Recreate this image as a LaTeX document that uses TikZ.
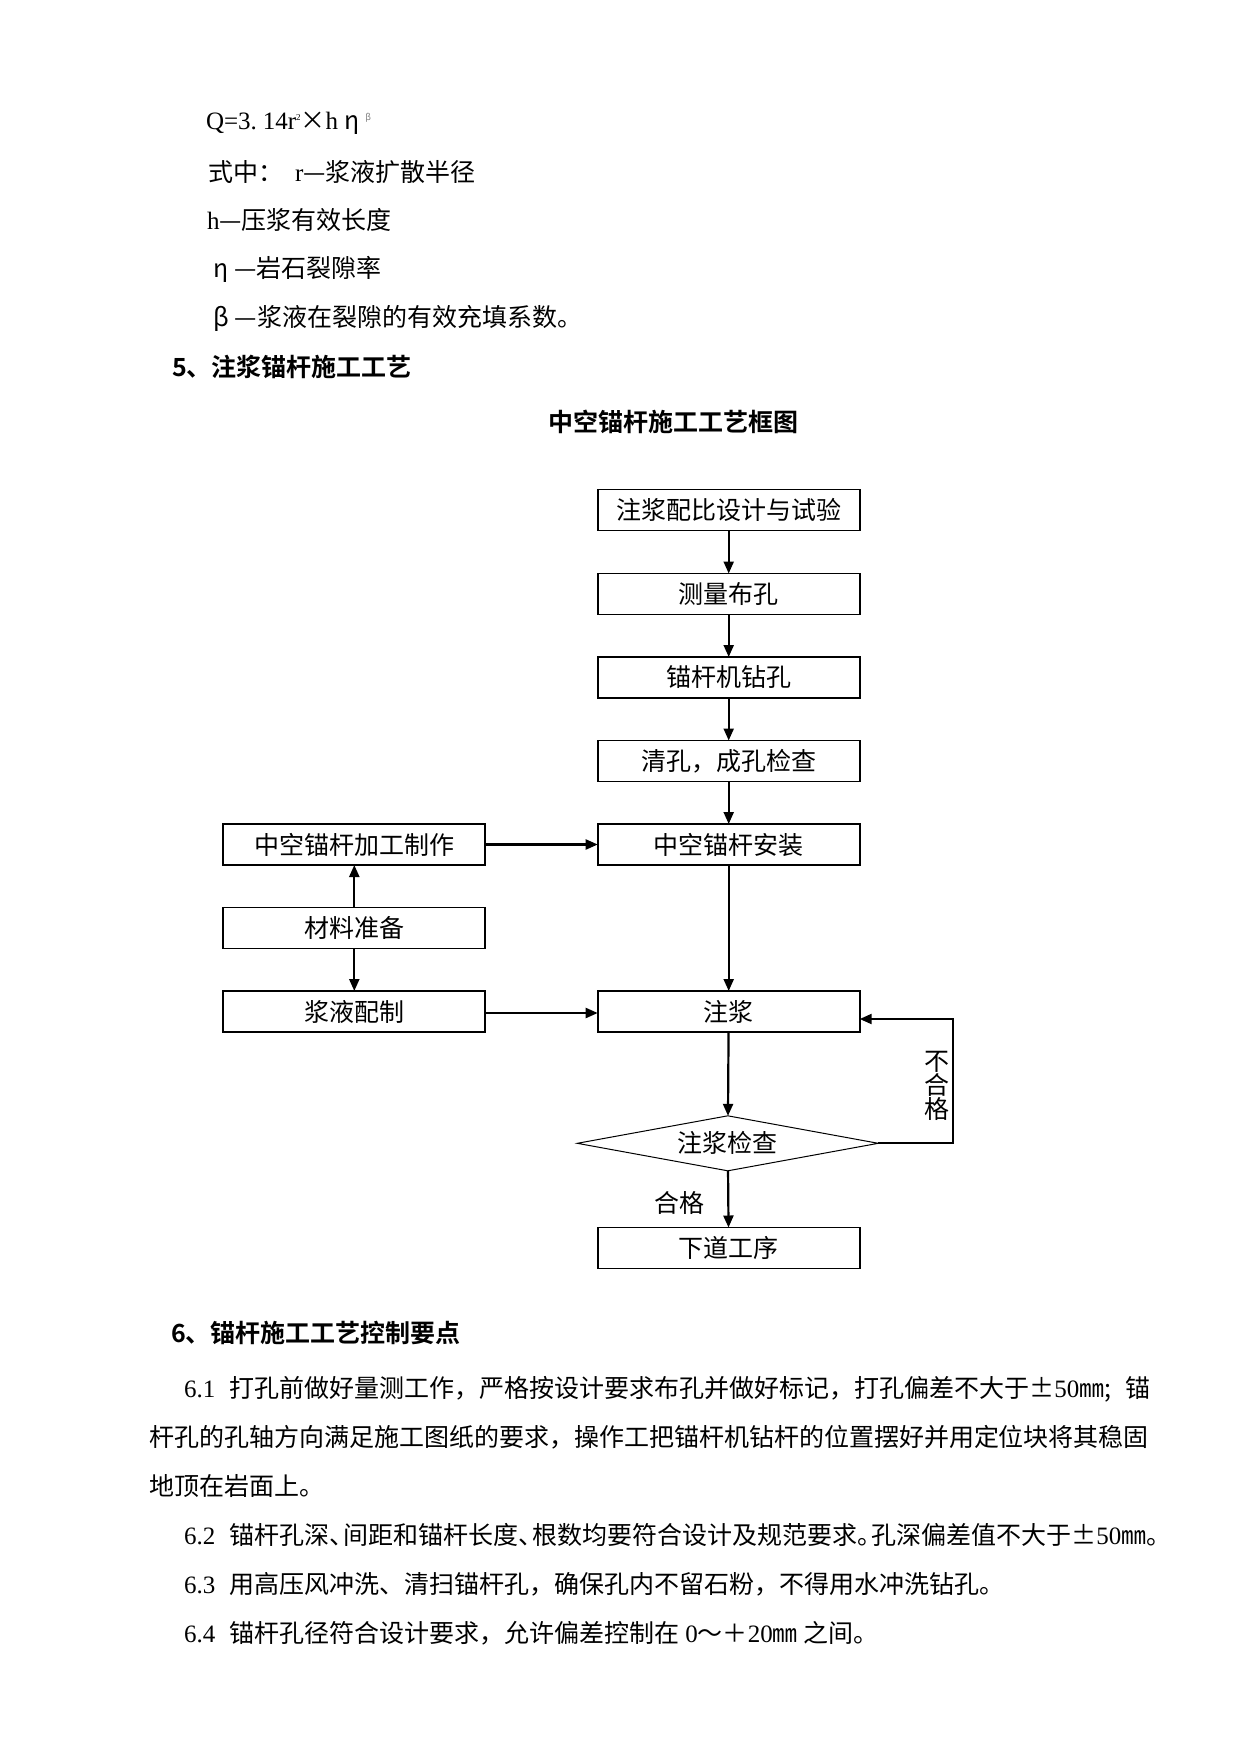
\documentclass[tikz,border=0pt]{standalone}
\usepackage{fontspec}
\setmainfont{Noto Sans CJK SC}[BoldFont={Noto Sans CJK SC Bold}]
\newfontfamily\lat{Liberation Serif}
\usetikzlibrary{arrows.meta,shapes.geometric}
\begin{document}
\begin{tikzpicture}[x=1pt,y=-1pt,
  every node/.style={inner sep=0pt,outer sep=0pt},
  box/.style={draw,line width=1.7pt,minimum width=262pt,minimum height=41pt,font=\fontsize{25}{30}\selectfont},
  chkbox/.style={draw,diamond,line width=1pt,shape aspect=5.5,minimum width=301pt,minimum height=55pt,font=\fontsize{25}{30}\selectfont},
  arr/.style={line width=2.2pt,-{Triangle[length=12pt,width=10pt]}},
  txt/.style={anchor=west,font=\fontsize{25}{30}\selectfont},
  head/.style={anchor=west,font=\fontsize{25}{30}\selectfont\bfseries},
  lbl/.style={font=\fontsize{25}{30}\selectfont},
]
\useasboundingbox[fill=white] (0,0) rectangle (1241,1754);

% top text
\node[txt] (f1) at (206,123) {{\lat Q=3.\hspace{6pt}14r}{\lat\fontsize{9}{9}\selectfont\raisebox{9pt}{2}}×{\lat h}\hspace{6pt}η\hspace{6pt}{\color{gray}\fontsize{9}{9}\selectfont\raisebox{9pt}{β}}};
\node[txt] (f2) at (208,172) {式中：\hspace{12pt}{\lat r}—浆液扩散半径};
\node[txt] (f3) at (207,220) {{\lat h}—压浆有效长度};
\node[txt] (f4) at (213,269) {η\hspace{6pt}—岩石裂隙率};
\node[txt] (f5) at (213,318) {β\hspace{6pt}—浆液在裂隙的有效充填系数。};
\node[head] (h5) at (172,367) {5、注浆锚杆施工工艺};
\node[head] (title) at (548,422) {中空锚杆施工工艺框图};

% flowchart
\node[box] (b1) at (728.7,510) {注浆配比设计与试验};
\node[box] (b2) at (728.7,594) {测量布孔};
\node[box] (b3) at (728.7,677.5) {锚杆机钻孔};
\node[box] (b4) at (728.7,761) {清孔，成孔检查};
\node[box] (b5) at (728.7,844.5) {中空锚杆安装};
\node[box] (l1) at (354.3,844.5) {中空锚杆加工制作};
\node[box] (l2) at (354.3,928) {材料准备};
\node[box] (l3) at (354.3,1011.5) {浆液配制};
\node[box] (zj) at (728.7,1011.5) {注浆};
\node[chkbox] (chk) at (727.8,1143.3) {注浆检查};
\node[box] (nx) at (728.7,1248) {下道工序};
\node[lbl,align=center,font=\fontsize{25}{24}\selectfont] (bhg) at (937,1086) {不\\合\\格};
\node[lbl] (hg) at (679,1203) {合格};

\draw[arr] (b1) -- (b2);
\draw[arr] (b2) -- (b3);
\draw[arr] (b3) -- (b4);
\draw[arr] (b4) -- (b5);
\draw[arr] (b5) -- (zj);
\draw[arr] (zj) -- (chk);
\draw[arr] (chk) -- (nx);
\draw[arr] (l1.east) -- (l1.east -| b5.west);
\draw[arr] (l2) -- (l1);
\draw[arr] (l2) -- (l3);
\draw[arr] ([yshift=-1.5pt]l3.east) -- ([yshift=-1.5pt]l3.east -| zj.west);
\coordinate (lp1) at (953.3,1143.3);
\coordinate (lp2) at (953.3,1019);
\draw[arr,line join=miter] (chk.east) -- (lp1) -- (lp2) -- (lp2 -| zj.east);

% bottom text
\node[head] (h6) at (171,1333) {6、锚杆施工工艺控制要点};
\node[txt] (p1) at (184,1389) {{\lat 6.1}\hspace{14pt}打孔前做好量测工作，严格按设计要求布孔并做好标记，打孔偏差不大于±{\lat 50}㎜;\hspace{14pt}锚};
\node[txt] (p2) at (149,1437) {杆孔的孔轴方向满足施工图纸的要求，操作工把锚杆机钻杆的位置摆好并用定位块将其稳固};
\node[txt] (p3) at (149,1486) {地顶在岩面上。};
\node[txt] (p4) at (184,1535) {{\lat 6.2}\hspace{14pt}锚杆孔深、\hspace{-11pt}间距和锚杆长度、\hspace{-11pt}根数均要符合设计及规范要求。\hspace{-11pt}孔深偏差值不大于±{\lat 50}㎜。};
\node[txt] (p5) at (184,1584.5) {{\lat 6.3}\hspace{14pt}用高压风冲洗、清扫锚杆孔，确保孔内不留石粉，不得用水冲洗钻孔。};
\node[txt] (p6) at (184,1633) {{\lat 6.4}\hspace{14pt}锚杆孔径符合设计要求，允许偏差控制在\hspace{6pt}{\lat 0}～＋{\lat 20}㎜\hspace{6pt}之间。};
\end{tikzpicture}
\end{document}
